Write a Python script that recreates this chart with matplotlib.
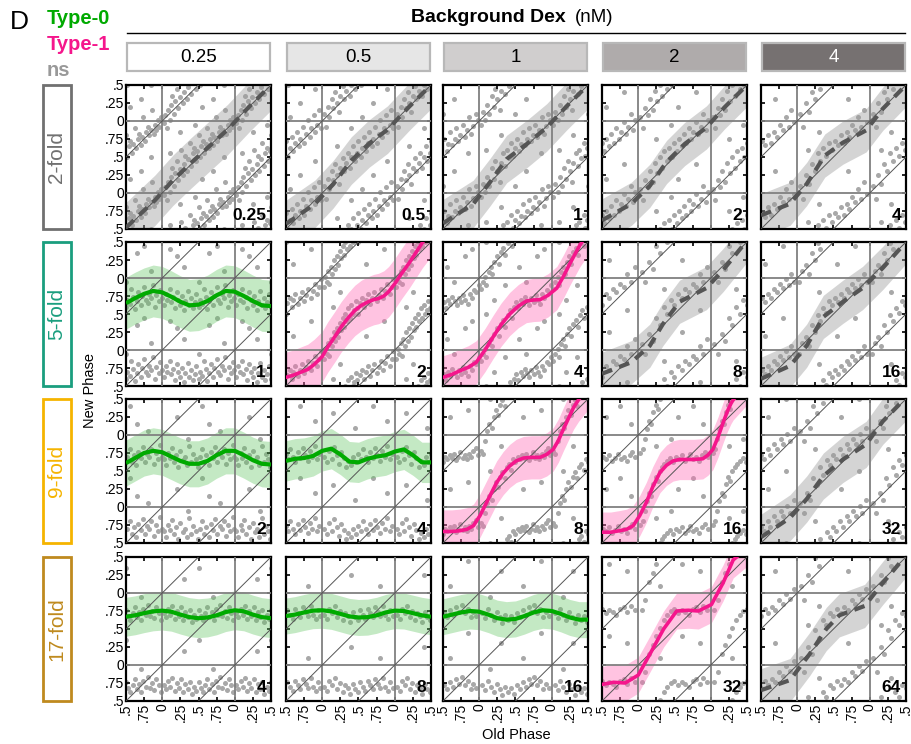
import matplotlib
matplotlib.use('Agg')
from matplotlib import pyplot as plt
from matplotlib.patches import Rectangle
from matplotlib.lines import Line2D
import numpy as np

plt.rcParams['font.family'] = ['Liberation Sans', 'DejaVu Sans']

#######################################################################################
# data
dex_labels = ['0.25', '0.5', '1', '2', '4']
fold_labels = ['2-fold', '5-fold', '9-fold', '17-fold']
panel_nums = [['0.25', '0.5', '1', '2', '4'],
              ['1', '2', '4', '8', '16'],
              ['2', '4', '8', '16', '32'],
              ['4', '8', '16', '32', '64']]
panel_types = [['ns', 'ns', 'ns', 'ns', 'ns'],
               ['t0', 't1', 't1', 'ns', 'ns'],
               ['t0', 't0', 't1', 't1', 'ns'],
               ['t0', 't0', 't0', 't1', 'ns']]
tick_pos = [-0.5, -0.25, 0, 0.25, 0.5, 0.75, 1, 1.25, 1.5]
tick_lab = ['.5', '.75', '0', '.25', '.5', '.75', '0', '.25', '.5']

# Type-0 (green) curves, sampled at green_x
green_x = [-0.5, -0.375, -0.25, -0.125, 0, 0.125, 0.25, 0.375, 0.5,
           0.625, 0.75, 0.875, 1.0, 1.125, 1.25, 1.375, 1.5]
g_r2c1 = [0.65, 0.72, 0.78, 0.82, 0.80, 0.74, 0.67, 0.62, 0.63, 0.68, 0.76, 0.82, 0.81, 0.75, 0.68, 0.62, 0.61]
g_r3c1 = [0.61, 0.68, 0.75, 0.78, 0.76, 0.70, 0.64, 0.60, 0.60, 0.64, 0.72, 0.78, 0.78, 0.72, 0.65, 0.60, 0.59]
g_r3c2 = [0.64, 0.67, 0.68, 0.71, 0.78, 0.81, 0.73, 0.63, 0.62, 0.67, 0.70, 0.72, 0.77, 0.80, 0.72, 0.62, 0.62]
g_r4c1 = [0.67, 0.69, 0.72, 0.745, 0.755, 0.74, 0.70, 0.665, 0.65, 0.66, 0.69, 0.735, 0.76, 0.745, 0.70, 0.665, 0.65]
g_r4c2 = [0.68, 0.70, 0.73, 0.755, 0.76, 0.745, 0.71, 0.675, 0.66, 0.665, 0.69, 0.73, 0.755, 0.75, 0.72, 0.69, 0.67]
g_r4c3 = [0.67, 0.70, 0.73, 0.75, 0.74, 0.70, 0.65, 0.63, 0.64, 0.68, 0.73, 0.76, 0.75, 0.71, 0.66, 0.63, 0.63]

# Type-1 (pink) curves
p_r2c2_x = [-0.5, -0.4, -0.3, -0.2, -0.11, 0.0, 0.075, 0.17, 0.26, 0.36, 0.45, 0.54, 0.635, 0.71, 0.776,
            0.85, 0.916, 1.0, 1.1, 1.2, 1.29, 1.38, 1.5]
p_r2c2_y = [-0.38, -0.35, -0.31, -0.27, -0.2, -0.09, 0.04, 0.18, 0.32, 0.45, 0.55, 0.62, 0.67, 0.70, 0.715,
            0.75, 0.81, 0.92, 1.07, 1.21, 1.35, 1.49, 1.65]
p_r2c3_x = [-0.5, -0.38, -0.27, -0.15, -0.04, 0.08, 0.19, 0.3, 0.42, 0.54, 0.65, 0.75, 0.84, 0.95, 1.07,
            1.16, 1.25, 1.32, 1.39, 1.5]
p_r2c3_y = [-0.38, -0.34, -0.29, -0.24, -0.17, 0.0, 0.18, 0.35, 0.5, 0.61, 0.68, 0.695, 0.70, 0.76, 0.86,
            1.02, 1.2, 1.33, 1.46, 1.62]
p_r3c3_x = [-0.5, -0.38, -0.27, -0.17, -0.08, 0.01, 0.1, 0.17, 0.24, 0.33, 0.42, 0.51, 0.61, 0.72, 0.84,
            0.93, 1.02, 1.09, 1.16, 1.23, 1.3, 1.37, 1.5]
p_r3c3_y = [-0.34, -0.34, -0.33, -0.31, -0.26, -0.12, 0.06, 0.2, 0.34, 0.47, 0.57, 0.64, 0.68, 0.69, 0.69,
            0.73, 0.8, 0.92, 1.08, 1.23, 1.38, 1.49, 1.65]
p_r3c4_x = [-0.5, -0.38, -0.26, -0.16, -0.07, 0.02, 0.11, 0.2, 0.3, 0.39, 0.48, 0.57, 0.66, 0.77, 0.89,
            0.96, 1.03, 1.1, 1.17, 1.23, 1.28, 1.31, 1.5]
p_r3c4_y = [-0.35, -0.35, -0.33, -0.31, -0.26, -0.12, 0.06, 0.28, 0.48, 0.58, 0.64, 0.66, 0.66, 0.66, 0.67,
            0.72, 0.8, 0.97, 1.17, 1.33, 1.44, 1.49, 1.7]
p_r4c4_x = [-0.5, -0.34, -0.18, 0.0, 0.16, 0.35, 0.53, 0.69, 0.83, 1.01, 1.17, 1.31, 1.5]
p_r4c4_y = [-0.27, -0.24, -0.25, -0.14, 0.15, 0.5, 0.75, 0.76, 0.75, 0.84, 1.14, 1.46, 1.62]

# ns (gray dashed) curves
n_r1c1_x = [-0.5, -0.1, 0.15, 0.4, 0.65, 0.9, 1.2, 1.5]
n_r1c1_y = [-0.48, -0.1, 0.18, 0.42, 0.65, 0.88, 1.2, 1.5]
n_r1c2_x = [-0.5, -0.1, 0.15, 0.4, 0.65, 0.9, 1.2, 1.5]
n_r1c2_y = [-0.43, -0.15, 0.12, 0.45, 0.69, 0.88, 1.2, 1.5]
n_r1c3_x = [-0.5, -0.084, 0.147, 0.378, 0.655, 0.93, 1.21, 1.5]
n_r1c3_y = [-0.42, -0.153, 0.148, 0.472, 0.68, 0.91, 1.21, 1.5]
n_r1c4_x = [-0.5, -0.095, 0.16, 0.39, 0.64, 0.94, 1.19, 1.5]
n_r1c4_y = [-0.38, -0.15, 0.1, 0.43, 0.68, 0.91, 1.19, 1.5]
n_r1c5_x = [-0.5, -0.1, 0.13, 0.38, 0.63, 0.95, 1.18, 1.5]
n_r1c5_y = [-0.31, -0.15, 0.125, 0.52, 0.70, 0.87, 1.17, 1.5]
n_r2c4_x = [-0.5, -0.095, 0.16, 0.34, 0.57, 0.94, 1.17, 1.5]
n_r2c4_y = [-0.33, -0.17, 0.06, 0.36, 0.67, 0.86, 1.11, 1.52]
n_r2c5_x = [-0.5, -0.1, 0.13, 0.36, 0.63, 0.9, 1.18, 1.5]
n_r2c5_y = [-0.4, -0.22, 0.06, 0.46, 0.67, 0.86, 1.14, 1.5]
n_r3c5_x = [-0.5, -0.1, 0.13, 0.36, 0.63, 0.95, 1.18, 1.5]
n_r3c5_y = [-0.42, -0.15, 0.11, 0.43, 0.66, 0.87, 1.19, 1.52]
n_r4c5_x = [-0.5, -0.1, 0.17, 0.4, 0.58, 0.93, 1.18, 1.5]
n_r4c5_y = [-0.35, -0.21, 0.15, 0.5, 0.69, 0.82, 1.14, 1.52]

# band half widths
band_hw = [[0.35, 0.33, 0.33, 0.30, 0.30],
           [0.36, 0.35, 0.30, 0.30, 0.30],
           [0.32, 0.28, 0.30, 0.28, 0.32],
           [0.27, 0.25, 0.25, 0.25, 0.30]]

# scatter points (old phase, new phase), one period
s_r1c1 = [(0.02, 0.97), (0.04, 0.08), (0.06, 0.90), (0.08, 0.15), (0.10, 0.02), (0.12, 0.22), (0.14, 0.35),
          (0.16, 0.10), (0.18, 0.28), (0.20, 0.45), (0.22, 0.18), (0.24, 0.33), (0.26, 0.60), (0.28, 0.25),
          (0.30, 0.40), (0.32, 0.52), (0.34, 0.30), (0.36, 0.47), (0.38, 0.70), (0.40, 0.38), (0.42, 0.55),
          (0.44, 0.62), (0.46, 0.45), (0.48, 0.58), (0.50, 0.80), (0.52, 0.50), (0.54, 0.65), (0.56, 0.72),
          (0.58, 0.55), (0.60, 0.68), (0.62, 0.90), (0.64, 0.62), (0.66, 0.75), (0.68, 0.82), (0.70, 0.66),
          (0.72, 0.78), (0.74, 0.05), (0.76, 0.72), (0.78, 0.85), (0.80, 0.92), (0.82, 0.80), (0.84, 0.88),
          (0.86, 0.15), (0.88, 0.82), (0.90, 0.95), (0.92, 0.88), (0.94, 0.02), (0.96, 0.92), (0.98, 0.05),
          (0.25, 0.85), (0.55, 0.20), (0.70, 0.30), (0.10, 0.55), (0.45, 0.95), (0.85, 0.50)]
s_r1c2 = [(0.03, 0.10), (0.05, 0.92), (0.08, 0.20), (0.10, 0.05), (0.13, 0.30), (0.15, 0.18), (0.18, 0.40),
          (0.20, 0.25), (0.23, 0.12), (0.25, 0.35), (0.28, 0.48), (0.30, 0.30), (0.33, 0.42), (0.35, 0.55),
          (0.38, 0.35), (0.40, 0.50), (0.43, 0.65), (0.45, 0.45), (0.48, 0.55), (0.50, 0.72), (0.53, 0.50),
          (0.55, 0.62), (0.58, 0.78), (0.60, 0.58), (0.63, 0.70), (0.65, 0.85), (0.68, 0.65), (0.70, 0.75),
          (0.73, 0.92), (0.75, 0.70), (0.78, 0.82), (0.80, 0.02), (0.83, 0.78), (0.85, 0.90), (0.88, 0.08),
          (0.90, 0.85), (0.93, 0.95), (0.95, 0.15), (0.98, 0.90), (0.40, 0.90), (0.20, 0.65), (0.70, 0.25),
          (0.90, 0.45), (0.55, 0.05)]
s_r1c3 = [(0.02, 0.95), (0.05, 0.12), (0.08, 0.02), (0.11, 0.22), (0.14, 0.10), (0.17, 0.35), (0.20, 0.20),
          (0.22, 0.45), (0.25, 0.30), (0.28, 0.15), (0.30, 0.42), (0.33, 0.55), (0.36, 0.38), (0.38, 0.60),
          (0.41, 0.48), (0.44, 0.70), (0.46, 0.52), (0.49, 0.62), (0.52, 0.75), (0.55, 0.58), (0.57, 0.68),
          (0.60, 0.85), (0.63, 0.66), (0.66, 0.75), (0.68, 0.90), (0.71, 0.72), (0.74, 0.80), (0.77, 0.95),
          (0.80, 0.78), (0.83, 0.88), (0.86, 0.05), (0.89, 0.82), (0.92, 0.93), (0.95, 0.10), (0.98, 0.02),
          (0.30, 0.80), (0.65, 0.30), (0.85, 0.55), (0.10, 0.60), (0.50, 0.10)]
s_r1c4 = [(0.03, 0.05), (0.06, 0.90), (0.10, 0.18), (0.13, 0.08), (0.16, 0.30), (0.20, 0.15), (0.23, 0.42),
          (0.26, 0.28), (0.30, 0.50), (0.33, 0.35), (0.36, 0.58), (0.40, 0.45), (0.43, 0.62), (0.46, 0.50),
          (0.50, 0.70), (0.53, 0.58), (0.56, 0.75), (0.60, 0.65), (0.63, 0.82), (0.66, 0.70), (0.70, 0.90),
          (0.73, 0.75), (0.76, 0.85), (0.80, 0.98), (0.83, 0.82), (0.86, 0.92), (0.90, 0.10), (0.93, 0.88),
          (0.96, 0.02), (0.25, 0.75), (0.55, 0.20), (0.80, 0.40), (0.45, 0.95)]
s_r1c5 = [(0.04, 0.10), (0.08, 0.92), (0.12, 0.25), (0.16, 0.12), (0.20, 0.40), (0.24, 0.30), (0.28, 0.55),
          (0.32, 0.45), (0.36, 0.62), (0.40, 0.52), (0.44, 0.70), (0.48, 0.60), (0.52, 0.72), (0.56, 0.66),
          (0.60, 0.80), (0.64, 0.70), (0.68, 0.85), (0.72, 0.78), (0.76, 0.95), (0.80, 0.88), (0.84, 0.05),
          (0.88, 0.92), (0.92, 0.15), (0.96, 0.98), (0.30, 0.85), (0.70, 0.30), (0.15, 0.60)]
s_r2c1 = [(0.02, 0.62), (0.05, 0.78), (0.07, 0.70), (0.10, 0.85), (0.12, 0.66), (0.15, 0.74), (0.17, 0.58),
          (0.20, 0.80), (0.22, 0.69), (0.25, 0.62), (0.27, 0.75), (0.30, 0.55), (0.32, 0.68), (0.35, 0.82),
          (0.37, 0.63), (0.40, 0.72), (0.42, 0.58), (0.45, 0.66), (0.47, 0.78), (0.50, 0.60), (0.52, 0.70),
          (0.55, 0.64), (0.57, 0.85), (0.60, 0.73), (0.62, 0.57), (0.65, 0.68), (0.67, 0.80), (0.70, 0.62),
          (0.72, 0.75), (0.75, 0.88), (0.77, 0.70), (0.80, 0.65), (0.82, 0.78), (0.85, 0.72), (0.87, 0.90),
          (0.90, 0.60), (0.92, 0.76), (0.95, 0.68), (0.97, 0.83), (0.99, 0.72), (0.30, 0.15), (0.65, 0.35),
          (0.10, 0.40), (0.85, 0.10), (0.50, 0.95), (0.20, 0.30), (0.75, 0.45)]
s_r2c2 = [(0.02, 0.88), (0.04, 0.02), (0.06, 0.95), (0.08, 0.10), (0.10, 0.92), (0.12, 0.15), (0.14, 0.05),
          (0.16, 0.25), (0.18, 0.12), (0.20, 0.30), (0.22, 0.18), (0.24, 0.38), (0.26, 0.28), (0.28, 0.45),
          (0.30, 0.32), (0.32, 0.50), (0.34, 0.40), (0.36, 0.58), (0.38, 0.45), (0.40, 0.62), (0.42, 0.50),
          (0.44, 0.55), (0.46, 0.68), (0.48, 0.58), (0.50, 0.50), (0.52, 0.65), (0.55, 0.72), (0.58, 0.60),
          (0.60, 0.70), (0.63, 0.78), (0.66, 0.64), (0.69, 0.72), (0.72, 0.80), (0.75, 0.68), (0.78, 0.76),
          (0.81, 0.85), (0.84, 0.72), (0.87, 0.82), (0.90, 0.92), (0.93, 0.78), (0.96, 0.88), (0.98, 0.98),
          (0.25, 0.80), (0.60, 0.20), (0.85, 0.40), (0.15, 0.60)]
s_r2c3 = [(0.02, 0.85), (0.05, 0.95), (0.08, 0.02), (0.10, 0.90), (0.13, 0.08), (0.16, 0.15), (0.18, 0.05),
          (0.21, 0.22), (0.24, 0.30), (0.27, 0.20), (0.30, 0.36), (0.33, 0.42), (0.36, 0.32), (0.39, 0.48),
          (0.42, 0.55), (0.45, 0.45), (0.48, 0.60), (0.51, 0.66), (0.54, 0.58), (0.57, 0.70), (0.60, 0.64),
          (0.63, 0.74), (0.66, 0.68), (0.69, 0.62), (0.72, 0.72), (0.75, 0.66), (0.78, 0.76), (0.81, 0.70),
          (0.84, 0.64), (0.87, 0.78), (0.90, 0.72), (0.93, 0.84), (0.96, 0.80), (0.99, 0.90), (0.20, 0.70),
          (0.55, 0.15), (0.80, 0.30), (0.35, 0.90), (0.10, 0.50), (0.65, 0.95), (0.90, 0.40)]
s_r2c4 = [(0.05, 0.08), (0.10, 0.95), (0.15, 0.22), (0.20, 0.12), (0.25, 0.45), (0.30, 0.35), (0.35, 0.60),
          (0.40, 0.50), (0.45, 0.70), (0.50, 0.62), (0.55, 0.78), (0.60, 0.72), (0.65, 0.85), (0.70, 0.80),
          (0.75, 0.92), (0.80, 0.88), (0.85, 0.05), (0.90, 0.95), (0.95, 0.15), (0.35, 0.85), (0.60, 0.25),
          (0.85, 0.55)]
s_r2c5 = [(0.03, 0.95), (0.07, 0.10), (0.12, 0.18), (0.16, 0.05), (0.20, 0.35), (0.24, 0.25), (0.28, 0.48),
          (0.32, 0.40), (0.36, 0.58), (0.40, 0.52), (0.44, 0.68), (0.48, 0.62), (0.52, 0.72), (0.56, 0.66),
          (0.60, 0.78), (0.64, 0.72), (0.68, 0.85), (0.72, 0.80), (0.76, 0.92), (0.80, 0.86), (0.84, 0.98),
          (0.88, 0.90), (0.92, 0.05), (0.96, 0.95), (0.30, 0.80), (0.55, 0.20), (0.80, 0.45)]
s_r3c1 = [(0.02, 0.66), (0.05, 0.58), (0.08, 0.75), (0.10, 0.68), (0.13, 0.82), (0.16, 0.62), (0.19, 0.72),
          (0.22, 0.55), (0.25, 0.78), (0.28, 0.65), (0.31, 0.70), (0.34, 0.58), (0.37, 0.85), (0.40, 0.62),
          (0.43, 0.74), (0.46, 0.66), (0.49, 0.56), (0.52, 0.70), (0.55, 0.80), (0.58, 0.63), (0.61, 0.72),
          (0.64, 0.58), (0.67, 0.76), (0.70, 0.68), (0.73, 0.84), (0.76, 0.62), (0.79, 0.74), (0.82, 0.70),
          (0.85, 0.80), (0.88, 0.60), (0.91, 0.75), (0.94, 0.66), (0.97, 0.86), (0.99, 0.70), (0.20, 0.25),
          (0.55, 0.40), (0.80, 0.05), (0.35, 0.95), (0.65, 0.15)]
s_r3c2 = [(0.03, 0.70), (0.06, 0.62), (0.10, 0.78), (0.13, 0.66), (0.16, 0.84), (0.20, 0.72), (0.23, 0.60),
          (0.26, 0.76), (0.30, 0.68), (0.33, 0.56), (0.36, 0.64), (0.40, 0.58), (0.43, 0.70), (0.46, 0.62),
          (0.50, 0.74), (0.53, 0.66), (0.56, 0.80), (0.60, 0.70), (0.63, 0.62), (0.66, 0.76), (0.70, 0.68),
          (0.73, 0.82), (0.76, 0.72), (0.80, 0.64), (0.83, 0.78), (0.86, 0.70), (0.90, 0.85), (0.93, 0.66),
          (0.96, 0.74), (0.15, 0.30), (0.45, 0.10), (0.70, 0.40), (0.90, 0.20)]
s_r3c3 = [(0.02, 0.78), (0.05, 0.74), (0.08, 0.92), (0.11, 0.05), (0.14, 0.15), (0.17, 0.10), (0.20, 0.25),
          (0.23, 0.35), (0.26, 0.28), (0.29, 0.42), (0.32, 0.48), (0.35, 0.40), (0.38, 0.55), (0.41, 0.60),
          (0.44, 0.52), (0.47, 0.66), (0.50, 0.62), (0.53, 0.70), (0.56, 0.66), (0.59, 0.72), (0.62, 0.68),
          (0.65, 0.74), (0.68, 0.65), (0.71, 0.70), (0.74, 0.76), (0.77, 0.68), (0.80, 0.72), (0.83, 0.66),
          (0.86, 0.74), (0.89, 0.70), (0.92, 0.78), (0.95, 0.82), (0.98, 0.72), (0.30, 0.85), (0.60, 0.25),
          (0.85, 0.35), (0.15, 0.50)]
s_r3c4 = [(0.03, 0.75), (0.06, 0.80), (0.09, 0.95), (0.12, 0.08), (0.15, 0.20), (0.18, 0.15), (0.21, 0.32),
          (0.24, 0.42), (0.27, 0.36), (0.30, 0.50), (0.33, 0.56), (0.36, 0.60), (0.40, 0.64), (0.44, 0.68),
          (0.48, 0.62), (0.52, 0.70), (0.56, 0.66), (0.60, 0.72), (0.64, 0.64), (0.68, 0.68), (0.72, 0.74),
          (0.76, 0.66), (0.80, 0.70), (0.84, 0.64), (0.88, 0.72), (0.92, 0.76), (0.96, 0.70), (0.25, 0.85),
          (0.55, 0.25), (0.75, 0.40), (0.90, 0.15), (0.45, 0.95)]
s_r3c5 = [(0.04, 0.05), (0.09, 0.92), (0.14, 0.20), (0.18, 0.10), (0.22, 0.40), (0.27, 0.30), (0.32, 0.55),
          (0.36, 0.45), (0.41, 0.65), (0.45, 0.58), (0.50, 0.72), (0.54, 0.66), (0.59, 0.80), (0.63, 0.72),
          (0.68, 0.88), (0.72, 0.80), (0.77, 0.95), (0.81, 0.88), (0.86, 0.02), (0.90, 0.92), (0.95, 0.10),
          (0.25, 0.80), (0.60, 0.25), (0.85, 0.50)]
s_r4c1 = [(0.02, 0.72), (0.05, 0.66), (0.08, 0.78), (0.11, 0.70), (0.14, 0.82), (0.17, 0.64), (0.20, 0.75),
          (0.23, 0.68), (0.26, 0.80), (0.29, 0.62), (0.32, 0.73), (0.35, 0.66), (0.38, 0.77), (0.41, 0.60),
          (0.44, 0.70), (0.47, 0.64), (0.50, 0.76), (0.53, 0.68), (0.56, 0.62), (0.59, 0.72), (0.62, 0.80),
          (0.65, 0.66), (0.68, 0.74), (0.71, 0.62), (0.74, 0.78), (0.77, 0.70), (0.80, 0.84), (0.83, 0.68),
          (0.86, 0.75), (0.89, 0.65), (0.92, 0.80), (0.95, 0.72), (0.98, 0.62), (0.30, 0.20), (0.70, 0.95),
          (0.50, 0.35)]
s_r4c2 = [(0.03, 0.70), (0.07, 0.64), (0.10, 0.78), (0.14, 0.72), (0.17, 0.82), (0.21, 0.66), (0.24, 0.75),
          (0.28, 0.62), (0.31, 0.72), (0.35, 0.68), (0.38, 0.60), (0.42, 0.74), (0.45, 0.66), (0.49, 0.62),
          (0.52, 0.76), (0.56, 0.70), (0.59, 0.64), (0.63, 0.78), (0.66, 0.72), (0.70, 0.66), (0.73, 0.80),
          (0.77, 0.74), (0.80, 0.68), (0.84, 0.82), (0.87, 0.70), (0.91, 0.64), (0.94, 0.76), (0.97, 0.68),
          (0.40, 0.25), (0.80, 0.10)]
s_r4c3 = [(0.04, 0.72), (0.08, 0.65), (0.12, 0.78), (0.16, 0.70), (0.20, 0.62), (0.24, 0.74), (0.28, 0.66),
          (0.32, 0.58), (0.36, 0.70), (0.40, 0.62), (0.44, 0.68), (0.48, 0.60), (0.52, 0.72), (0.56, 0.66),
          (0.60, 0.76), (0.64, 0.70), (0.68, 0.80), (0.72, 0.74), (0.76, 0.84), (0.80, 0.72), (0.84, 0.78),
          (0.88, 0.66), (0.92, 0.74), (0.96, 0.68), (0.30, 0.30), (0.60, 0.10), (0.85, 0.45), (0.15, 0.95)]
s_r4c4 = [(0.05, 0.76), (0.10, 0.90), (0.15, 0.15), (0.20, 0.28), (0.25, 0.40), (0.30, 0.52), (0.35, 0.62),
          (0.40, 0.70), (0.45, 0.75), (0.50, 0.78), (0.55, 0.72), (0.60, 0.76), (0.65, 0.74), (0.70, 0.70),
          (0.75, 0.78), (0.80, 0.80), (0.85, 0.74), (0.90, 0.82), (0.95, 0.76), (0.30, 0.10), (0.60, 0.40),
          (0.85, 0.30)]
s_r4c5 = [(0.05, 0.10), (0.10, 0.90), (0.15, 0.25), (0.20, 0.15), (0.25, 0.48), (0.30, 0.38), (0.35, 0.62),
          (0.40, 0.55), (0.45, 0.72), (0.50, 0.68), (0.55, 0.78), (0.60, 0.72), (0.65, 0.80), (0.70, 0.76),
          (0.75, 0.90), (0.80, 0.85), (0.85, 0.98), (0.90, 0.92), (0.95, 0.05), (0.30, 0.82), (0.70, 0.30),
          (0.15, 0.55)]

scatter_sets = [[s_r1c1, s_r1c2, s_r1c3, s_r1c4, s_r1c5],
                [s_r2c1, s_r2c2, s_r2c3, s_r2c4, s_r2c5],
                [s_r3c1, s_r3c2, s_r3c3, s_r3c4, s_r3c5],
                [s_r4c1, s_r4c2, s_r4c3, s_r4c4, s_r4c5]]
curves = {(0, 0): (n_r1c1_x, n_r1c1_y), (0, 1): (n_r1c2_x, n_r1c2_y), (0, 2): (n_r1c3_x, n_r1c3_y),
          (0, 3): (n_r1c4_x, n_r1c4_y), (0, 4): (n_r1c5_x, n_r1c5_y),
          (1, 0): (green_x, g_r2c1), (1, 1): (p_r2c2_x, p_r2c2_y), (1, 2): (p_r2c3_x, p_r2c3_y),
          (1, 3): (n_r2c4_x, n_r2c4_y), (1, 4): (n_r2c5_x, n_r2c5_y),
          (2, 0): (green_x, g_r3c1), (2, 1): (green_x, g_r3c2), (2, 2): (p_r3c3_x, p_r3c3_y),
          (2, 3): (p_r3c4_x, p_r3c4_y), (2, 4): (n_r3c5_x, n_r3c5_y),
          (3, 0): (green_x, g_r4c1), (3, 1): (green_x, g_r4c2), (3, 2): (green_x, g_r4c3),
          (3, 3): (p_r4c4_x, p_r4c4_y), (3, 4): (n_r4c5_x, n_r4c5_y)}

#######################################################################################
W, H = 912, 744
GREEN = '#00aa00'
PINK = '#f5168c'
DASH = '#555555'
DOT = '#a8a8a8'
head_fill = ['#ffffff', '#e6e6e6', '#d0cece', '#afabab', '#767171']
head_txt = ['black', 'black', 'black', 'black', 'white']
fold_col = ['#707070', '#1a9e7e', '#f5b400', '#bf8a1e']
col_left = [126, 286, 443, 602, 761]
row_top = [85, 242, 399, 557]
PW, PH = 145, 144


def tile(pts):
    u = np.array([p[0] for p in pts])
    v = np.array([p[1] for p in pts])
    xs, ys = [], []
    for i in (-1, 0, 1):
        for j in (-1, 0, 1):
            xx, yy = u + i, v + j
            m = (xx >= -0.5) & (xx <= 1.5) & (yy >= -0.5) & (yy <= 1.5)
            xs.append(xx[m])
            ys.append(yy[m])
    return np.concatenate(xs), np.concatenate(ys)


def fx(x):
    return x / W


def fy(y):
    return 1 - y / H


fig = plt.figure(figsize=(W / 100, H / 100), dpi=100)

for r in range(4):
    for c in range(5):
        ax = fig.add_axes([fx(col_left[c]), fy(row_top[r] + PH), PW / W, PH / H])
        ax.set_xlim(-0.5, 1.5)
        ax.set_ylim(-0.5, 1.5)
        xs, ys = tile(scatter_sets[r][c])
        ax.scatter(xs, ys, s=13, color=DOT, linewidths=0, zorder=1)
        kind = panel_types[r][c]
        cx, cy = curves[(r, c)]
        cx = np.array(cx)
        cy = np.array(cy)
        hw = band_hw[r][c]
        if kind == 't0':
            ax.fill_between(cx, cy - hw, cy + hw, color='#5cc45c', alpha=0.36, lw=0, zorder=2)
        elif kind == 't1':
            ax.fill_between(cx, cy - hw, cy + hw, color='#ff69b4', alpha=0.4, lw=0, zorder=2)
        else:
            ax.fill_between(cx, cy - hw, cy + hw, color='#9a9a9a', alpha=0.42, lw=0, zorder=2)
        for g in (0, 1):
            ax.axhline(g, color='#808080', lw=1.3, zorder=3)
            ax.axvline(g, color='#808080', lw=1.3, zorder=3)
        for k in (-1, 0, 1):
            ax.plot([-0.5, 1.5], [-0.5 + k, 1.5 + k], color='#555555', lw=0.7, zorder=3)
        if kind == 't0':
            ax.plot(cx, cy, color=GREEN, lw=3, zorder=4, solid_capstyle='butt')
        elif kind == 't1':
            ax.plot(cx, cy, color=PINK, lw=2.6, zorder=4, solid_joinstyle='round')
        else:
            ax.plot(cx, cy, color=DASH, lw=3, zorder=4, dashes=(2.6, 1.8))
        ax.text(0.965, 0.045, panel_nums[r][c], transform=ax.transAxes, ha='right', va='bottom',
                fontsize=12.5, fontweight='bold', zorder=5)
        ax.set_xticks(tick_pos)
        ax.set_yticks(tick_pos)
        ax.tick_params(direction='in', length=3, width=1.2, top=True, right=True, labelsize=10, pad=1.5)
        if c == 0:
            ax.set_yticklabels(tick_lab)
        else:
            ax.set_yticklabels([])
        if r == 3:
            ax.set_xticklabels(tick_lab, rotation=90)
        else:
            ax.set_xticklabels([])
        for sp in ax.spines.values():
            sp.set_linewidth(1.6)

# header
fig.add_artist(Line2D([fx(127), fx(905)], [fy(33), fy(33)], color='black', lw=1))
for c in range(5):
    fig.add_artist(Rectangle((fx(col_left[c] + 1), fy(71)), (PW - 2) / W, 28 / H, transform=fig.transFigure,
                             facecolor=head_fill[c], edgecolor='#b8b8b8', lw=1.6))
    fig.text(fx(col_left[c] + PW / 2), fy(57), dex_labels[c], ha='center', va='center', fontsize=13.5,
             color=head_txt[c])
fig.text(fx(566), fy(17), 'Background Dex', ha='right', va='center', fontsize=14, fontweight='bold')
fig.text(fx(575), fy(17), '(nM)', ha='left', va='center', fontsize=13.5)

# row labels
for r in range(4):
    fig.add_artist(Rectangle((fx(43), fy(row_top[r] + PH)), 28 / W, PH / H, transform=fig.transFigure,
                             facecolor='none', edgecolor=fold_col[r], lw=2))
    fig.text(fx(57), fy(row_top[r] + PH / 2), fold_labels[r], rotation=90, ha='center', va='center',
             fontsize=15, color=fold_col[r])

fig.text(fx(10), fy(22), 'D', ha='left', va='center', fontsize=19)
fig.text(fx(47), fy(18), 'Type-0', ha='left', va='center', fontsize=14.5, fontweight='bold', color=GREEN)
fig.text(fx(47), fy(44), 'Type-1', ha='left', va='center', fontsize=14.5, fontweight='bold', color=PINK)
fig.text(fx(47), fy(70), 'ns', ha='left', va='center', fontsize=14.5, fontweight='bold', color='#999999')

fig.text(fx(90), fy(391), 'New Phase', rotation=90, ha='center', va='center', fontsize=10.5)
fig.text(fx(516), fy(735), 'Old Phase', ha='center', va='center', fontsize=10.5)

fig.savefig('out.png', dpi=100)
